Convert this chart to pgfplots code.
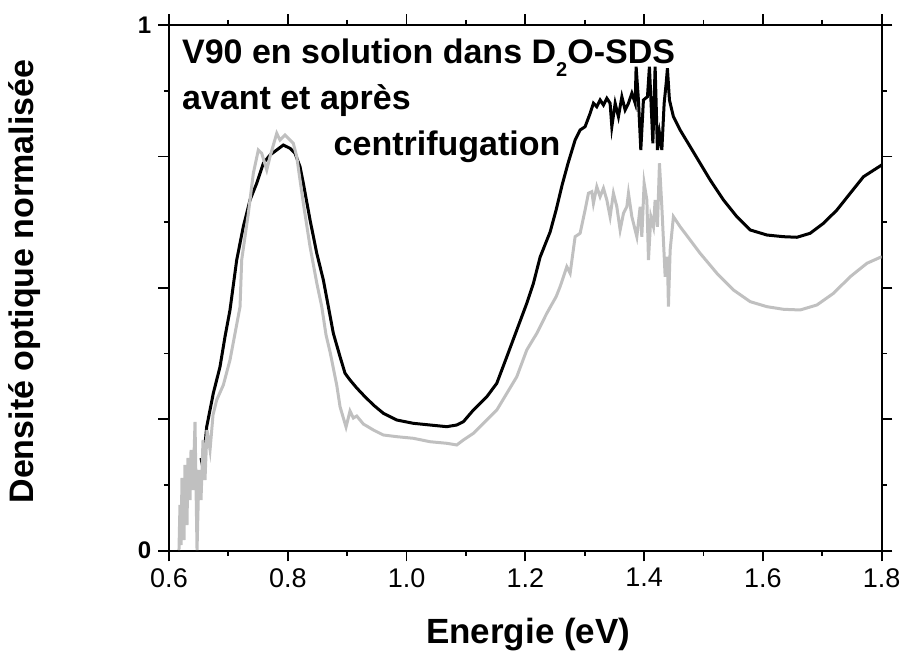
\documentclass[border=0pt]{standalone}
\usepackage{pgfplots}
\pgfplotsset{compat=1.18}
\usepackage{fontspec}
\setmainfont{Liberation Sans}
\definecolor{lgrey}{RGB}{192,192,192}
\begin{document}
\begin{tikzpicture}
\begin{axis}[name=ax,
  scale only axis, width=356.35pt, height=262.85pt,
  xmin=0.6, xmax=1.8, ymin=0, ymax=1,
  axis line style={line width=1pt},
  tick align=outside,
  xtick={0.6,0.8,1.0,1.2,1.4,1.6,1.8},
  xticklabels={0.6,0.8,1.0,1.2,1.4,1.6,1.8},
  minor x tick num=1,
  ytick={0,0.25,0.5,0.75,1},
  yticklabels={\textbf{0},,,,\textbf{1}},
  minor y tick num=1,
  major tick length=5.3pt, minor tick length=2.6pt,
  every tick/.style={black, line width=0.9pt},
  /pgf/number format/assume math mode=true,
  xticklabel style={font=\fontsize{13.5}{14}\selectfont},
  yticklabel style={font=\fontsize{12}{12}\selectfont},
  xlabel={\textbf{Energie (eV)}},
  ylabel={\textbf{Densité optique normalisée}},
  xlabel style={at={(axis description cs:0.504,-0.1756)}, anchor=base, font=\fontsize{17.5}{18}\selectfont},
  ylabel style={at={(axis description cs:-0.2032,0.512)}, anchor=center, font=\fontsize{17}{18}\selectfont},
  clip=true,
]
% avant (black)
\addplot[black, line width=1.5pt] coordinates {
(0.6539,0.1763)(0.6573,0.1573)(0.6606,0.2011)(0.6635,0.2359)(0.6746,0.2994)(0.6859,0.3500)
(0.6943,0.4071)(0.7027,0.4579)(0.7140,0.5530)(0.7251,0.6163)(0.7364,0.6671)(0.7477,0.6989)
(0.7588,0.7369)(0.7701,0.7527)(0.7814,0.7622)(0.7925,0.7717)(0.8038,0.7654)(0.8122,0.7559)
(0.8206,0.7304)(0.8262,0.6989)(0.8375,0.6291)(0.8488,0.5657)(0.8599,0.5149)(0.8678,0.4674)
(0.8767,0.4135)(0.8880,0.3690)(0.8964,0.3375)(0.9048,0.3247)(0.9161,0.3095)(0.9272,0.2962)
(0.9441,0.2772)(0.9609,0.2614)(0.9835,0.2486)(1.0115,0.2423)(1.0396,0.2391)(1.0677,0.2359)
(1.0845,0.2391)(1.0957,0.2454)(1.1125,0.2676)(1.1351,0.2929)(1.1519,0.3184)(1.1688,0.3690)
(1.1856,0.4198)(1.2024,0.4706)(1.2136,0.5087)(1.2249,0.5587)(1.2417,0.6062)(1.2518,0.6481)
(1.2619,0.6956)(1.2720,0.7375)(1.2838,0.7812)(1.2922,0.8003)(1.3006,0.8066)(1.3091,0.8320)
(1.3146,0.8511)(1.3203,0.8446)(1.3259,0.8573)(1.3315,0.8478)(1.3372,0.8606)(1.3427,0.8511)
(1.3456,0.8066)(1.3512,0.8511)(1.3567,0.8256)(1.3625,0.8636)(1.3680,0.8383)(1.3736,0.8511)
(1.3793,0.8701)(1.3849,0.8511)(1.3865,0.9207)(1.3904,0.8573)(1.3944,0.7622)(1.3988,0.8573)
(1.4056,0.8636)(1.4089,0.9207)(1.4147,0.7750)(1.4185,0.9207)(1.4224,0.7622)(1.4258,0.7940)
(1.4298,0.7622)(1.4337,0.8511)(1.4371,0.8891)(1.4392,0.9177)(1.4426,0.8573)(1.4493,0.8256)
(1.4606,0.8003)(1.4775,0.7685)(1.4943,0.7369)(1.5112,0.7052)(1.5336,0.6671)(1.5561,0.6354)
(1.5786,0.6101)(1.6067,0.6005)(1.6346,0.5973)(1.6572,0.5962)(1.6796,0.6038)(1.7020,0.6228)
(1.7246,0.6481)(1.7470,0.6799)(1.7693,0.7114)(1.8000,0.7337)
};
% apres (grey)
\addplot[lgrey, line width=1.5pt] coordinates {
(0.6168,0.0013)(0.6185,0.0869)(0.6202,0.0108)(0.6219,0.1383)(0.6253,0.0204)(0.6269,0.1630)
(0.6303,0.0488)(0.6320,0.1763)(0.6354,0.0964)(0.6371,0.1916)(0.6404,0.1154)(0.6438,0.2448)
(0.6472,0.0013)(0.6505,0.1535)(0.6539,0.0964)(0.6573,0.2106)(0.6606,0.1345)(0.6640,0.2296)
(0.6691,0.1916)(0.6741,0.2581)(0.6803,0.2867)(0.6915,0.3152)(0.7027,0.3628)(0.7112,0.4135)
(0.7196,0.4641)(0.7224,0.5530)(0.7336,0.6418)(0.7420,0.7179)(0.7504,0.7622)(0.7561,0.7559)
(0.7646,0.7242)(0.7701,0.7495)(0.7814,0.7940)(0.7869,0.7812)(0.7954,0.7908)(0.8038,0.7812)
(0.8093,0.7750)(0.8151,0.7495)(0.8206,0.7052)(0.8262,0.6608)(0.8375,0.5783)(0.8488,0.5092)
(0.8572,0.4642)(0.8644,0.4103)(0.8712,0.3780)(0.8824,0.3152)(0.8880,0.2739)(0.8936,0.2524)
(0.8981,0.2353)(0.9048,0.2657)(0.9104,0.2524)(0.9161,0.2562)(0.9272,0.2410)(0.9441,0.2296)
(0.9609,0.2201)(0.9835,0.2169)(1.0115,0.2138)(1.0396,0.2073)(1.0677,0.2043)(1.0845,0.2011)
(1.0957,0.2106)(1.1125,0.2233)(1.1294,0.2423)(1.1519,0.2676)(1.1688,0.2994)(1.1856,0.3310)
(1.2024,0.3818)(1.2193,0.4135)(1.2361,0.4516)(1.2518,0.4832)(1.2585,0.5022)(1.2698,0.5402)
(1.2754,0.5277)(1.2838,0.5973)(1.2922,0.6038)(1.3006,0.6481)(1.3062,0.6799)(1.3119,0.6829)
(1.3146,0.6608)(1.3203,0.6924)(1.3259,0.6734)(1.3315,0.6894)(1.3372,0.6671)(1.3427,0.6354)
(1.3483,0.6799)(1.3540,0.6544)(1.3596,0.6101)(1.3652,0.6418)(1.3709,0.6544)(1.3736,0.6799)
(1.3793,0.6354)(1.3877,0.5973)(1.3933,0.6544)(1.3961,0.5973)(1.4000,0.6989)(1.4046,0.6671)
(1.4073,0.5530)(1.4113,0.6354)(1.4157,0.6163)(1.4185,0.6671)(1.4224,0.6163)(1.4258,0.7369)
(1.4298,0.6544)(1.4354,0.5212)(1.4392,0.5593)(1.4409,0.4642)(1.4438,0.5720)(1.4493,0.6354)
(1.4606,0.6163)(1.4775,0.5910)(1.4943,0.5657)(1.5225,0.5277)(1.5504,0.4959)(1.5786,0.4737)
(1.6067,0.4642)(1.6346,0.4592)(1.6627,0.4579)(1.6909,0.4674)(1.7188,0.4896)(1.7470,0.5212)
(1.7751,0.5467)(1.8000,0.5593)
};
\node[anchor=base west, inner sep=0pt, font=\fontsize{17}{18}\selectfont\bfseries] at (axis cs:0.6214,0.9272)
  {V90 en solution dans D\raisebox{-6.5pt}{\fontsize{10}{10}\selectfont 2}O-SDS};
\node[anchor=base west, inner sep=0pt, font=\fontsize{17}{18}\selectfont\bfseries] at (axis cs:0.6214,0.8383)
  {avant et après};
\node[anchor=base west, inner sep=0pt, font=\fontsize{17}{18}\selectfont\bfseries] at (axis cs:0.8767,0.7525)
  {centrifugation};
\end{axis}
\pgfresetboundingbox
\path[use as bounding box] (ax.south west) ++(-84.5pt,-50.65pt) rectangle ++(451.5pt,326pt);
\end{tikzpicture}
\end{document}
